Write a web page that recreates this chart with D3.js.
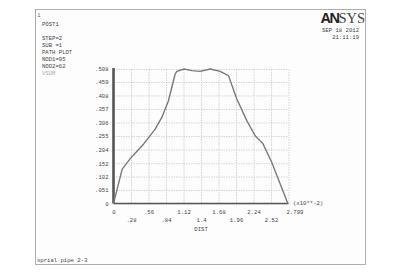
<!DOCTYPE html>
<html lang="en">
<head>
  <meta charset="UTF-8">
  <title>ANSYS path plot</title>
  <script src="https://d3js.org/d3.v7.min.js"></script>
  <style>
    body { margin: 0; background: #fff; }
    .lbl { font-family: "Liberation Mono", monospace; font-size: 5.6px; fill: #444; }
    .grid line { stroke: #bbb; stroke-width: 0.6; stroke-dasharray: 1.5,1; }
    .grid .domain { display: none; }
    .tick text { font-family: "Liberation Mono", monospace; font-size: 5.6px; fill: #444; }
  </style>
</head>
<body>
  <div id="chart"></div>
  <script>
    // path plot values (DIST in x10**-2, VSUM)
    const dist = [0, 0.139, 0.283, 0.48, 0.666, 0.773, 0.879, 0.986, 1.013, 1.13, 1.253, 1.386, 1.546, 1.706, 1.839, 1.972, 2.132, 2.265, 2.388, 2.532, 2.789]
    const vsum = [0, 0.130, 0.174, 0.224, 0.281, 0.325, 0.388, 0.489, 0.499, 0.508, 0.502, 0.499, 0.508, 0.499, 0.483, 0.395, 0.313, 0.256, 0.227, 0.155, 0]

    const xTicks = [0, 0.28, 0.56, 0.84, 1.12, 1.4, 1.68, 1.96, 2.24, 2.52, 2.799]
    const xLabels = ["0", ".28", ".56", ".84", "1.12", "1.4", "1.68", "1.96", "2.24", "2.52", "2.799"]
    const yLabels = ["0", ".051", ".102", ".152", ".204", ".255", ".306", ".357", ".408", ".459", ".508"]
    const infoLines = ["POST1", "", "STEP=2", "SUB =1", "PATH PLOT", "NOD1=95", "NOD2=62"]

    const W = 405, H = 280
    const plot = {left: 113.5, right: 288.5, top: 69, bottom: 203.5}

    const svg = d3.select("#chart").append("svg")
      .attr("width", W)
      .attr("height", H)

    // page frame
    svg.append("rect")
      .attr("x", 35.5).attr("y", 9.5)
      .attr("width", 330).attr("height", 255)
      .attr("fill", "#fdfdfd")
      .attr("stroke", "#999")
      .attr("stroke-width", 0.8)

    const x = d3.scaleLinear().domain([0, 2.799]).range([plot.left, plot.right])
    const y = d3.scaleLinear().domain([0, 0.508]).range([plot.bottom, plot.top])
    const yVals = yLabels.map(d => +d)

    // grid
    svg.append("g")
      .attr("class", "grid")
      .attr("transform", `translate(0,${plot.bottom})`)
      .call(d3.axisBottom(x).tickValues(xTicks).tickSize(-(plot.bottom - plot.top)).tickFormat(""))
    svg.append("g")
      .attr("class", "grid")
      .attr("transform", `translate(${plot.left},0)`)
      .call(d3.axisLeft(y).tickValues(yVals).tickSize(-(plot.right - plot.left)).tickFormat(""))

    // y labels
    const yAxis = svg.append("g")
      .attr("transform", `translate(${plot.left - 2},0)`)
      .call(d3.axisLeft(y).tickValues(yVals).tickSize(0).tickFormat((d, i) => yLabels[i]))
    yAxis.select(".domain").remove()

    // x labels, staggered in two rows
    const xAxis = svg.append("g")
      .attr("transform", `translate(0,${plot.bottom})`)
      .call(d3.axisBottom(x).tickValues(xTicks).tickSize(0).tickFormat((d, i) => xLabels[i]))
    xAxis.select(".domain").remove()
    xAxis.selectAll(".tick text")
      .attr("y", (d, i) => i % 2 === 0 ? 7 : 15)
      .attr("dx", (d, i) => i === xTicks.length - 1 ? "6" : "0")

    // axis lines
    svg.append("line")
      .attr("x1", plot.left).attr("x2", plot.right)
      .attr("y1", plot.bottom).attr("y2", plot.bottom)
      .attr("stroke", "#555").attr("stroke-width", 1.6)
    svg.append("line")
      .attr("x1", plot.left).attr("x2", plot.left)
      .attr("y1", plot.top - 1).attr("y2", plot.bottom)
      .attr("stroke", "#555").attr("stroke-width", 2.6)

    // curve
    const line = d3.line()
      .x((d, i) => x(dist[i]))
      .y((d, i) => y(vsum[i]))
    svg.append("path")
      .attr("d", line(dist))
      .attr("fill", "none")
      .attr("stroke", "#7a7a7a")
      .attr("stroke-width", 1.4)
      .attr("stroke-linejoin", "round")

    // axis titles
    svg.append("text").attr("class", "lbl")
      .attr("x", x(1.4)).attr("y", 230.5)
      .attr("text-anchor", "middle")
      .text("DIST")
    svg.append("text").attr("class", "lbl")
      .attr("x", 293).attr("y", 205)
      .text("(x10**-2)")

    // left info block
    svg.append("text").attr("class", "lbl")
      .attr("x", 37.5).attr("y", 17)
      .attr("fill", "#aaa")
      .style("font-size", "4.5px")
      .text("1")
    infoLines.forEach((t, i) => {
      svg.append("text").attr("class", "lbl")
        .attr("x", 42).attr("y", 25.5 + i * 7)
        .text(t)
    })
    svg.append("text").attr("class", "lbl")
      .attr("x", 42).attr("y", 74.5)
      .style("fill", "#aaa")
      .text("VSUM")

    // logo and date
    const logo = svg.append("text")
      .attr("x", 365).attr("y", 22.5)
      .attr("text-anchor", "end")
      .style("font-size", "14.5px")
    logo.append("tspan")
      .style("font-family", "Liberation Sans, sans-serif")
      .style("font-weight", "bold")
      .style("letter-spacing", "-1.5px")
      .attr("fill", "#222")
      .text("AN")
    logo.append("tspan")
      .style("font-family", "Liberation Serif, serif")
      .attr("fill", "#444")
      .text("SYS")
    svg.append("text").attr("class", "lbl")
      .attr("x", 359).attr("y", 31.5)
      .attr("text-anchor", "end")
      .text("SEP 18 2012")
    svg.append("text").attr("class", "lbl")
      .attr("x", 359).attr("y", 38.5)
      .attr("text-anchor", "end")
      .text("21:11:19")

    svg.append("text").attr("class", "lbl")
      .attr("x", 37).attr("y", 262)
      .text("sprial pipe 2-3")
  </script>
</body>
</html>
